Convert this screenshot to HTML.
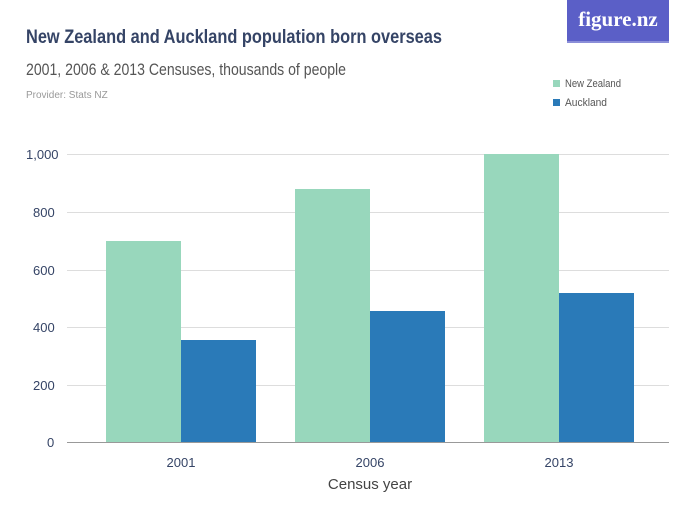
<!DOCTYPE html>
<html><head><meta charset="utf-8"><style>
body{margin:0;width:700px;height:525px;background:#fff;overflow:hidden;font-family:"Liberation Sans",sans-serif}
</style></head><body>
<svg width="700" height="525" xmlns="http://www.w3.org/2000/svg" font-family="Liberation Sans, sans-serif">
<rect x="567" y="0" width="102" height="42" fill="#5b5fc7"/>
<rect x="567" y="41" width="102" height="2" fill="#8a8ed8"/>
<text x="618" y="26" text-anchor="middle" fill="#fff" font-family="Liberation Serif, serif" font-size="21" font-weight="bold">figure.nz</text>
<text x="26" y="43" fill="#354466" font-size="19" font-weight="bold" textLength="416" lengthAdjust="spacingAndGlyphs">New Zealand and Auckland population born overseas</text>
<text x="26" y="75" fill="#555" font-size="17" textLength="320" lengthAdjust="spacingAndGlyphs">2001, 2006 &amp; 2013 Censuses, thousands of people</text>
<text x="26" y="98" fill="#999" font-size="10">Provider: Stats NZ</text>
<rect x="553" y="80" width="7" height="7" fill="#98d7bc"/>
<text x="565" y="87" fill="#555" font-size="11" textLength="56" lengthAdjust="spacingAndGlyphs">New Zealand</text>
<rect x="553" y="99" width="7" height="7" fill="#2a7ab8"/>
<text x="565" y="106" fill="#555" font-size="11" textLength="42" lengthAdjust="spacingAndGlyphs">Auckland</text>
<g stroke="#ddd" stroke-width="1">
<line x1="67" x2="669" y1="154.5" y2="154.5"/><line x1="67" x2="669" y1="212.5" y2="212.5"/>
<line x1="67" x2="669" y1="270.5" y2="270.5"/><line x1="67" x2="669" y1="327.5" y2="327.5"/>
<line x1="67" x2="669" y1="385.5" y2="385.5"/>
</g>
<g fill="#354466" font-size="13">
<text x="26" y="159">1,000</text><text x="33" y="217">800</text><text x="33" y="275">600</text>
<text x="33" y="332">400</text><text x="33" y="390">200</text><text x="47" y="447">0</text>
</g>
<g fill="#98d7bc"><rect x="106" y="241" width="75" height="201"/><rect x="295" y="189" width="75" height="253"/><rect x="484" y="154" width="75" height="288"/></g>
<g fill="#2a7ab8"><rect x="181" y="340" width="75" height="102"/><rect x="370" y="311" width="75" height="131"/><rect x="559" y="293" width="75" height="149"/></g>
<line x1="67" x2="669" y1="442.5" y2="442.5" stroke="#999"/>
<g fill="#354466" font-size="13" text-anchor="middle">
<text x="181" y="467">2001</text><text x="370" y="467">2006</text><text x="559" y="467">2013</text>
<text x="370" y="489" font-size="15" fill="#444">Census year</text>
</g>
</svg>
</body></html>
